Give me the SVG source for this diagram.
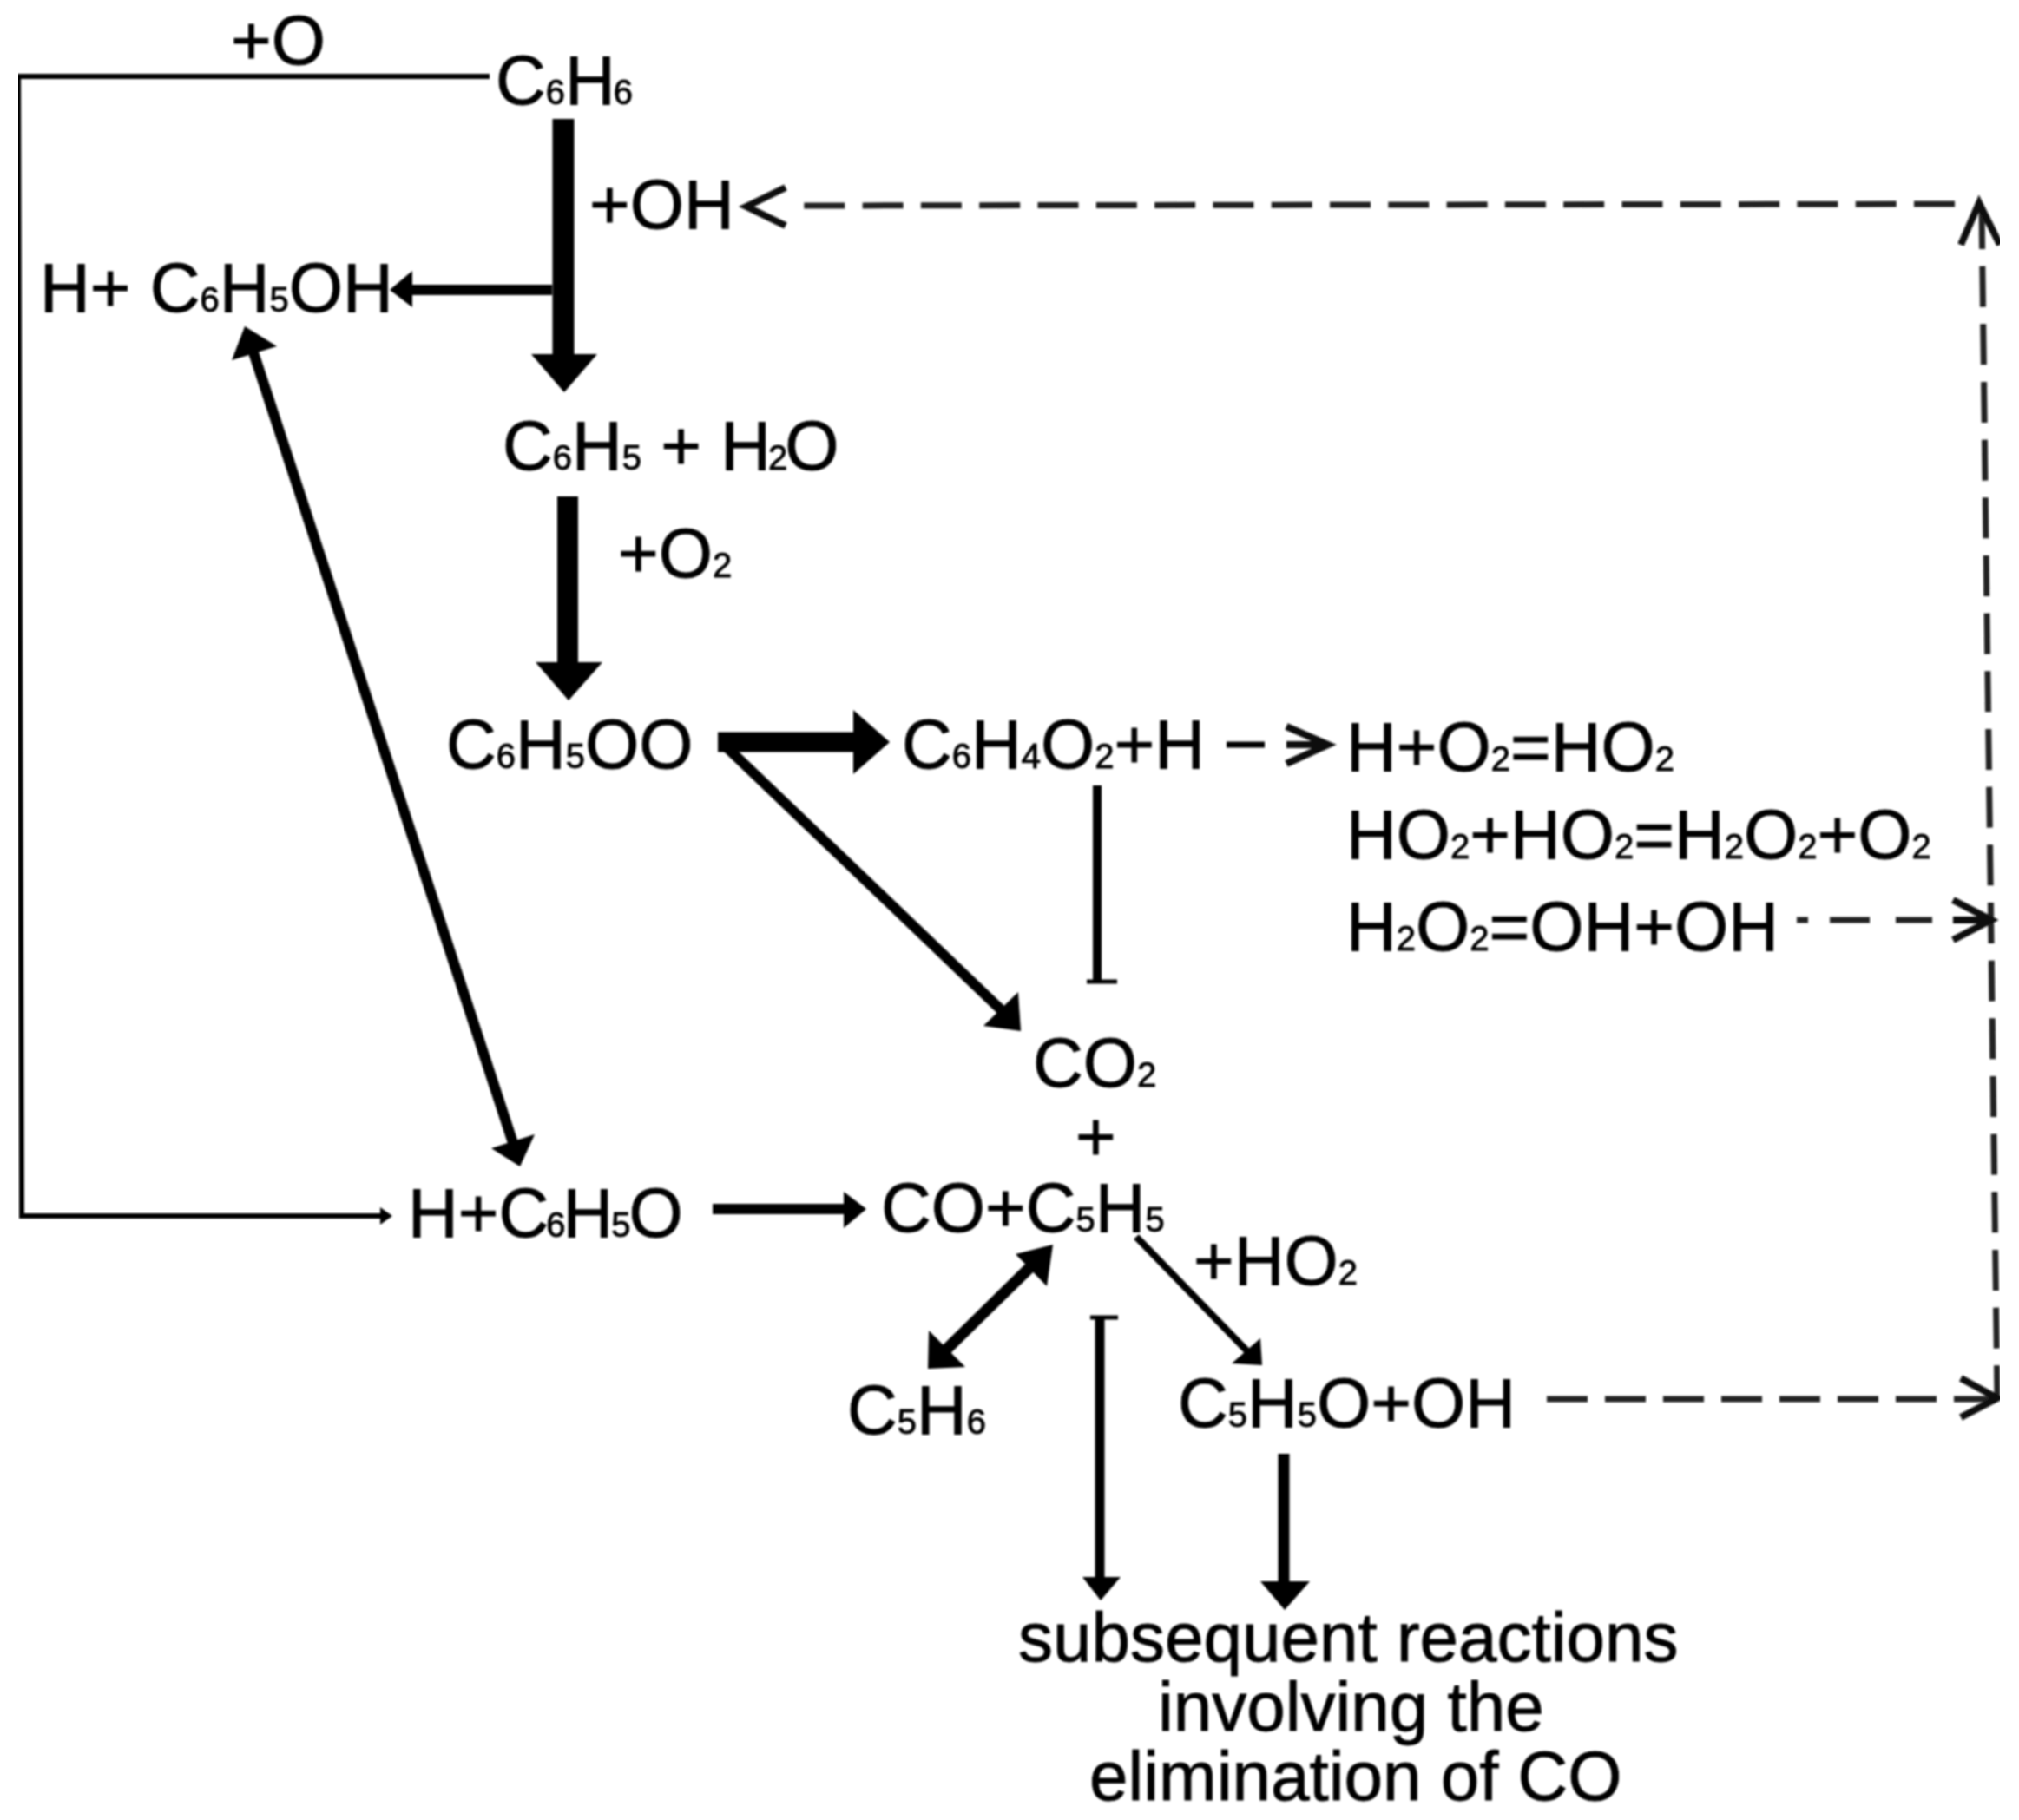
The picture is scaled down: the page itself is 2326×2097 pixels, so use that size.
<svg xmlns="http://www.w3.org/2000/svg" width="2326" height="2097" viewBox="0 0 2326 2097">
<style>
text{font-family:"Liberation Sans",Arial,sans-serif;font-size:80px;fill:#000;stroke:#000;stroke-width:.9}
.s{font-size:40px}
.l{fill:none;stroke:#000;stroke-linecap:butt}
.d{fill:none;stroke:#222;stroke-width:7}
.c{fill:none;stroke:#111;stroke-width:8}
</style>
<defs><filter id="soft" x="0" y="0" width="100%" height="100%"><feGaussianBlur stdDeviation="0.9"/></filter></defs>
<rect width="2326" height="2097" fill="#fff"/>
<g id="diagram" filter="url(#soft)">
<g id="connectors">
<path class="l" stroke-width="6" d="M564 88H21L25 1401H445"/>
<path d="M452 1401L438 1391V1411Z"/>
<path class="l" stroke-width="25" d="M649 137V410"/><path d="M612 408H688L650 452Z"/>
<path class="l" stroke-width="12" d="M636 334H470"/><path d="M449 334L475 312V354Z"/>
<path class="l" stroke-width="24" d="M654 572V765"/><path d="M617 763H694L655 807Z"/>
<path class="l" stroke-width="23" d="M827 855H990"/><path d="M983 818L1025 855L983 892Z"/>
<path class="l" stroke-width="12" d="M834 858L1160 1170"/><path d="M1176 1188L1133 1182L1173 1143Z"/>
<path class="l" stroke-width="12" d="M290 400L592 1320"/><path d="M282 376L267 415L319 399Z"/><path d="M599 1344L566 1323L616 1307Z"/>
<path class="l" stroke-width="10" d="M1264 905V1130"/><path class="l" stroke-width="5" d="M1252 1131H1287"/>
<path class="l" stroke-width="7" d="M1413 858H1457"/><path class="c" d="M1482 837L1530 858L1482 880M1482 858H1530"/>
<path class="d" stroke-dasharray="47 20.3" d="M2252 235L926 237"/><path class="c" d="M905 216L860 238L905 260"/>
<path class="d" stroke-dasharray="47 19.67" d="M2283 240L2289 706L2301 1612"/><path class="c" d="M2259 282L2280 234L2304 282"/>
<path class="d" d="M2070 1060H2083M2108 1060H2154M2184 1060H2226"/><path class="c" d="M2250 1037L2294 1060L2250 1083M2250 1060H2294"/>
<path class="d" stroke-dasharray="47 20" d="M1782 1612H2295"/><path class="c" d="M2259 1588L2301 1611L2259 1633"/>
<path class="l" stroke-width="12" d="M821 1393H980"/><path d="M972 1373L998 1393L972 1415Z"/>
<path class="l" stroke-width="13" d="M1195 1452L1085 1560"/><path d="M1213 1434L1170 1445L1206 1482Z"/><path d="M1069 1577L1070 1533L1112 1575Z"/>
<path class="l" stroke-width="8" d="M1309 1425L1440 1560"/><path d="M1454 1573L1419 1571L1452 1542Z"/>
<path class="l" stroke-width="11" d="M1267 1517V1820"/><path class="l" stroke-width="5" d="M1256 1518H1288"/><path d="M1247 1817H1291L1268 1844Z"/>
<path class="l" stroke-width="13" d="M1479 1675V1825"/><path d="M1452 1822H1509L1480 1855Z"/>
</g>
<g id="n-o"><text x="266" y="74">+O</text></g>
<g id="n-c6h6"><text x="571" y="120">C<tspan class="s">6</tspan>H<tspan class="s" dx="-2">6</tspan></text></g>
<g id="n-oh"><text x="679" y="263">+OH</text></g>
<g id="n-c6h5oh"><text x="46" y="359">H+ C<tspan class="s">6</tspan>H<tspan class="s">5</tspan>OH</text></g>
<g id="n-c6h5-h2o"><text x="579" y="541">C<tspan class="s">6</tspan>H<tspan class="s">5</tspan> + H<tspan class="s" dx="-3">2</tspan><tspan dx="-3">O</tspan></text></g>
<g id="n-o2"><text x="712" y="665">+O<tspan class="s">2</tspan></text></g>
<g id="n-c6h5oo"><text x="514" y="885">C<tspan class="s">6</tspan>H<tspan class="s">5</tspan>OO</text></g>
<g id="n-c6h4o2"><text x="1039" y="885">C<tspan class="s">6</tspan>H<tspan class="s">4</tspan>O<tspan class="s">2</tspan>+H</text></g>
<g id="n-r1"><text x="1551" y="888">H+O<tspan class="s">2</tspan>=HO<tspan class="s">2</tspan></text></g>
<g id="n-r2"><text x="1551" y="989">HO<tspan class="s">2</tspan>+HO<tspan class="s">2</tspan>=H<tspan class="s">2</tspan>O<tspan class="s">2</tspan>+O<tspan class="s">2</tspan></text></g>
<g id="n-r3"><text x="1551" y="1095">H<tspan class="s">2</tspan>O<tspan class="s">2</tspan>=OH+OH</text></g>
<g id="n-co2"><text x="1190" y="1252">CO<tspan class="s">2</tspan></text></g>
<g id="n-plus"><text x="1239" y="1337">+</text></g>
<g id="n-co-c5h5"><text x="1015" y="1419">CO+C<tspan class="s">5</tspan>H<tspan class="s">5</tspan></text></g>
<g id="n-c6h5o"><text x="470" y="1425">H+C<tspan class="s" dx="-3">6</tspan><tspan dx="-3">H</tspan><tspan class="s" dx="-2">5</tspan><tspan dx="-2">O</tspan></text></g>
<g id="n-ho2"><text x="1375" y="1480">+HO<tspan class="s">2</tspan></text></g>
<g id="n-c5h6"><text x="976" y="1652">C<tspan class="s">5</tspan>H<tspan class="s">6</tspan></text></g>
<g id="n-c5h5o-oh"><text x="1357" y="1644">C<tspan class="s">5</tspan>H<tspan class="s">5</tspan>O+OH</text></g>
<g id="n-subsequent"><text x="1173" y="1914">subsequent reactions</text><text x="1334" y="1994">involving the</text><text x="1255" y="2074">elimination of CO</text></g>
</g>
</svg>
